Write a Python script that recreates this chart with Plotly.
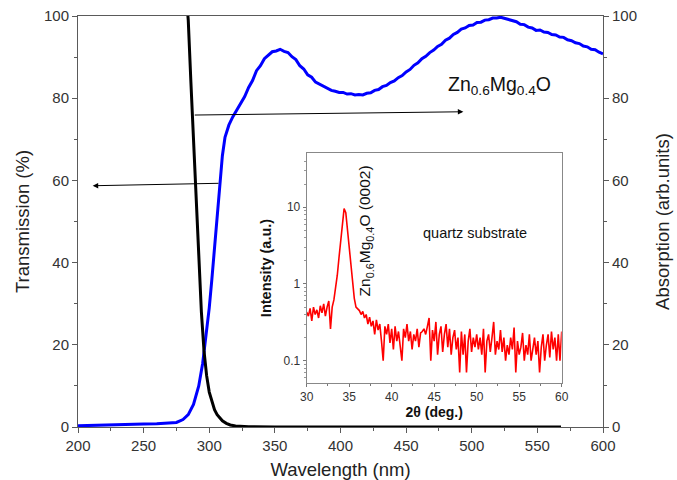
import plotly.graph_objects as go

# ---- UV-vis spectra (wavelength in nm) ----
trans_wl = [200, 210, 220, 230, 240, 250, 260, 270, 275, 280, 284, 288, 292, 295, 298,
            300, 302, 304, 306, 308, 310, 312, 315, 318, 321, 324, 327, 330, 333, 336,
            339, 342, 345, 348, 351, 354, 357, 360, 363, 366, 369, 372, 375, 378, 381,
            384, 387, 390, 393, 396, 399, 402, 405, 408, 411, 414, 417, 420, 423, 426,
            429, 432, 435, 438, 441, 444, 447, 450, 453, 456, 459, 462, 465, 468, 471,
            474, 477, 480, 483, 486, 489, 492, 495, 498, 501, 504, 507, 510, 513, 516,
            519, 522, 525, 528, 531, 534, 537, 540, 543, 546, 549, 552, 555, 558, 561,
            564, 567, 570, 573, 576, 579, 582, 585, 588, 591, 594, 597, 600]
transmission = [0.3, 0.35, 0.45, 0.5, 0.6, 0.7, 0.8, 0.9, 1.1, 1.8, 3.0, 5.5, 10, 15.5, 23,
                29, 36, 44, 52, 60, 66, 70.5, 73.5, 75.5, 77.2, 78.6, 80.4, 82.6, 84.3, 86.7,
                87.9, 89.6, 90.4, 91.3, 91.5, 91.9, 91.4, 91.1, 90.1, 89.4, 87.9, 87.1, 85.7, 85.1, 83.9,
                83.4, 82.7, 82.4, 81.9, 81.7, 81.4, 81.4, 81.0, 81.1, 80.8, 80.9, 80.8, 81.2, 81.3, 81.9,
                82.1, 82.8, 83.1, 83.8, 84.2, 85.0, 85.5, 86.4, 87.0, 88.0, 88.6, 89.6, 90.2, 91.1, 91.7,
                92.6, 93.1, 94.1, 94.6, 95.5, 96.0, 96.8, 97.1, 97.7, 97.8, 98.4, 98.5, 99.0, 99.1, 99.5,
                99.5, 99.7, 99.4, 99.2, 98.8, 98.6, 98.0, 97.9, 97.3, 97.1, 96.5, 96.6, 96.1, 96.0, 95.5,
                95.4, 94.9, 94.8, 94.2, 94.0, 93.5, 93.3, 92.7, 92.5, 91.9, 91.8, 91.2, 90.8]

abs_wl = [283, 284, 286, 288, 289, 290, 292, 294, 296, 298, 300, 302, 304, 306, 308,
          310, 313, 316, 320, 325, 330, 350, 400, 450, 470, 500, 568]
absorption = [103, 99, 84, 70, 62, 55, 40, 28, 18.5, 12.5, 8.5, 6, 4.2, 3, 2.1,
              1.5, 0.9, 0.5, 0.25, 0.1, 0.05, 0.02, 0.02, 0.05, 0, 0, 0]

# ---- XRD scan (2-theta from 30 to 60 deg, 0.2 deg step) ----
two_theta_start = 30.0
two_theta_step = 0.2
xrd_intensity = [
    0.43, 0.38, 0.48, 0.33, 0.50, 0.40, 0.46, 0.36, 0.52, 0.42,
    0.55, 0.38, 0.50, 0.60, 0.26, 0.50, 0.62, 0.85, 1.3, 2.2,
    3.8, 6.8, 9.6, 8.5, 5.0, 3.0, 1.7, 1.1, 0.65, 0.50,
    0.47, 0.45, 0.40, 0.44, 0.36, 0.40, 0.30, 0.37, 0.28, 0.33,
    0.22, 0.34, 0.25, 0.30, 0.18, 0.10, 0.28, 0.22, 0.30, 0.17,
    0.26, 0.14, 0.28, 0.18, 0.24, 0.15, 0.10, 0.26, 0.20, 0.30,
    0.18, 0.24, 0.14, 0.22, 0.18, 0.26, 0.15, 0.23, 0.24, 0.26,
    0.22, 0.28, 0.36, 0.10, 0.25, 0.18, 0.32, 0.12, 0.22, 0.28,
    0.13, 0.22, 0.30, 0.15, 0.26, 0.12, 0.20, 0.25, 0.14, 0.20,
    0.07, 0.24, 0.12, 0.22, 0.07, 0.18, 0.26, 0.13, 0.20, 0.15,
    0.22, 0.14, 0.20, 0.12, 0.26, 0.07, 0.18, 0.22, 0.13, 0.20,
    0.32, 0.12, 0.18, 0.14, 0.25, 0.13, 0.20, 0.10, 0.16, 0.12,
    0.20, 0.14, 0.27, 0.07, 0.18, 0.12, 0.15, 0.23, 0.10, 0.16,
    0.12, 0.22, 0.10, 0.14, 0.20, 0.12, 0.18, 0.07, 0.15, 0.22,
    0.10, 0.16, 0.22, 0.11, 0.24, 0.14, 0.20, 0.10, 0.22, 0.10,
    0.24,
]
two_theta = [round(two_theta_start + two_theta_step * i, 1) for i in range(len(xrd_intensity))]

FONT = "Liberation Sans, Arial, sans-serif"
AXIS_GREY = "#5a5a5a"
TICK_COLOR = "#333333"

fig = go.Figure()

fig.add_trace(go.Scatter(x=trans_wl, y=transmission, mode="lines",
                         line=dict(color="#0000ff", width=3), xaxis="x", yaxis="y",
                         showlegend=False))
fig.add_trace(go.Scatter(x=abs_wl, y=absorption, mode="lines",
                         line=dict(color="#000000", width=3), xaxis="x", yaxis="y2",
                         showlegend=False))
fig.add_trace(go.Scatter(x=two_theta, y=xrd_intensity, mode="lines",
                         line=dict(color="#ff0000", width=1.6), xaxis="x3", yaxis="y3",
                         showlegend=False))

main_tick_font = dict(family=FONT, size=15, color=TICK_COLOR)
title_font = dict(family=FONT, size=18.5, color="#222222")

fig.update_layout(
    width=677, height=480,
    margin=dict(l=78, r=74, t=16, b=53, autoexpand=False),
    paper_bgcolor="white", plot_bgcolor="white",
    xaxis=dict(range=[200, 600], domain=[0, 1], anchor="y", automargin=False,
               tickmode="linear", tick0=200, dtick=50,
               ticks="outside", ticklen=5, tickcolor=AXIS_GREY,
               minor=dict(ticks="outside", ticklen=3, dtick=25, tickcolor=AXIS_GREY),
               showline=True, linecolor=AXIS_GREY, linewidth=1, mirror=True,
               showgrid=False, zeroline=False, tickfont=main_tick_font,
               title=dict(text="Wavelength (nm)", font=title_font, standoff=12)),
    yaxis=dict(range=[0, 100], domain=[0, 1], anchor="x", automargin=False,
               tickmode="linear", tick0=0, dtick=20,
               ticks="outside", ticklen=5, tickcolor=AXIS_GREY,
               minor=dict(ticks="outside", ticklen=3, dtick=10, tickcolor=AXIS_GREY),
               showline=True, linecolor=AXIS_GREY, linewidth=1,
               showgrid=False, zeroline=False, tickfont=main_tick_font,
               title=dict(text="Transmission (%)", font=title_font, standoff=9)),
    yaxis2=dict(range=[0, 100], overlaying="y", side="right", anchor="x", automargin=False,
                tickmode="linear", tick0=0, dtick=20,
                ticks="outside", ticklen=5, tickcolor=AXIS_GREY,
                minor=dict(ticks="outside", ticklen=3, dtick=10, tickcolor=AXIS_GREY),
                showline=True, linecolor=AXIS_GREY, linewidth=1,
                showgrid=False, zeroline=False, tickfont=main_tick_font,
                title=dict(text="Absorption (arb.units)", font=title_font, standoff=20)),
    xaxis3=dict(range=[30, 60], domain=[0.4356, 0.9213], anchor="y3", automargin=False,
                tickmode="linear", tick0=30, dtick=5,
                ticks="outside", ticklen=3, tickcolor="#777777",
                minor=dict(ticks="outside", ticklen=2, dtick=2.5, tickcolor="#777777"),
                showline=True, linecolor="#888888", linewidth=1, mirror=True,
                showgrid=False, zeroline=False,
                tickfont=dict(family=FONT, size=12, color=TICK_COLOR),
                title=dict(text="<b>2θ (deg.)</b>",
                           font=dict(family=FONT, size=14, color="#111111"), standoff=0)),
    yaxis3=dict(type="log", range=[-1.287, 1.704], domain=[0.1078, 0.666], anchor="x3",
                automargin=False,
                tickvals=[0.1, 1, 10], ticktext=["0.1", "1", "10"],
                ticks="outside", ticklen=3, tickcolor="#777777",
                minor=dict(ticks="outside", ticklen=2, tickcolor="#999999",
                           tickvals=[0.06, 0.07, 0.08, 0.09, 0.2, 0.3, 0.4, 0.5, 0.6, 0.7, 0.8, 0.9,
                                     2, 3, 4, 5, 6, 7, 8, 9, 20, 30, 40]),
                showline=True, linecolor="#888888", linewidth=1, mirror=True,
                showgrid=False, zeroline=False,
                tickfont=dict(family=FONT, size=12, color=TICK_COLOR),
                title=dict(text="<b>Intensity (a.u.)</b>",
                           font=dict(family=FONT, size=14.5, color="#111111"), standoff=8)),
)

arrow_style = dict(showarrow=True, arrowhead=2, arrowsize=1.1, arrowwidth=1,
                   arrowcolor="#000000", text="", axref="x", ayref="y",
                   xref="x", yref="y", standoff=0, startstandoff=0)
# arrow toward the transmission (left) axis
fig.add_annotation(x=211.2, y=58.7, ax=308.2, ay=59.3, **arrow_style)
# arrow toward the absorption (right) axis
fig.add_annotation(x=493.6, y=76.7, ax=287.8, ay=75.9, **arrow_style)

fig.add_annotation(x=521.5, y=83.0, xref="x", yref="y", showarrow=False,
                   text="Zn<sub>0.6</sub>Mg<sub>0.4</sub>O",
                   font=dict(family=FONT, size=19.5, color="#111111"))

fig.add_annotation(x=49.8, y=0.669, xref="x3", yref="y3", showarrow=False,
                   text="quartz substrate",
                   font=dict(family=FONT, size=14.5, color="#111111"))
fig.add_annotation(x=36.9, y=0.69, xref="x3", yref="y3", showarrow=False, textangle=-90,
                   text="Zn<sub>0.6</sub>Mg<sub>0.4</sub>O (0002)",
                   font=dict(family=FONT, size=15.5, color="#111111"))

fig.write_html("out.html")
